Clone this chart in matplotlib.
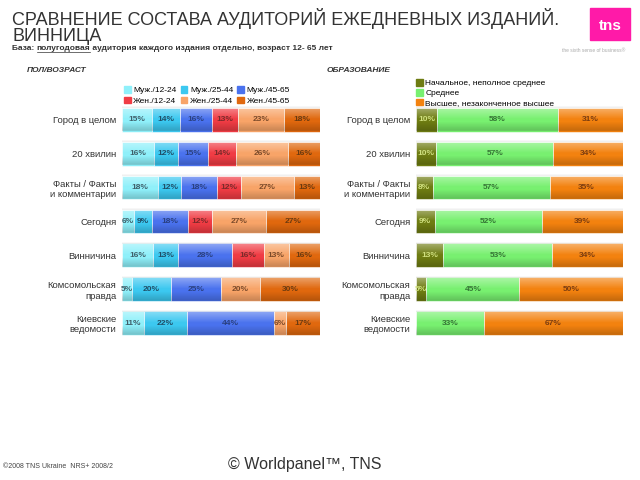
import numpy as np
import matplotlib
matplotlib.use('Agg')
from matplotlib import pyplot as plt
from matplotlib.patches import Rectangle

plt.rcParams['font.family'] = ['Liberation Sans', 'DejaVu Sans']

cats = ['Город в целом', '20 хвилин', 'Факты / Факты\nи комментарии', 'Сегодня',
        'Винничина', 'Комсомольская\nправда', 'Киевские\nведомости']

age_labels = ['Муж./12-24', 'Муж./25-44', 'Муж./45-65', 'Жен./12-24', 'Жен./25-44', 'Жен./45-65']
age_vals = [
    [15, 14, 16, 13, 23, 18],
    [16, 12, 15, 14, 26, 16],
    [18, 12, 18, 12, 27, 13],
    [6, 9, 18, 12, 27, 27],
    [16, 13, 28, 16, 13, 16],
    [5, 20, 25, 0, 20, 30],
    [11, 22, 44, 0, 6, 17],
]
age_colors = ['#8ff0fa', '#3cc8f0', '#4a72ee', '#f03c44', '#f8a468', '#e0680e']

edu_labels = ['Начальное, неполное среднее', 'Среднее', 'Высшее, незаконченное высшее']
edu_vals = [
    [10, 58, 31],
    [10, 57, 34],
    [8, 57, 35],
    [9, 52, 39],
    [13, 53, 34],
    [5, 45, 50],
    [0, 33, 67],
]
edu_colors = ['#6e7c12', '#78f070', '#f3820f']

fig = plt.figure(figsize=(6.4, 4.8), dpi=100)


def stacked(ax, vals, colors, txtcols):
    vals = np.array(vals, dtype=float)
    n = len(vals)
    y = np.arange(n)
    for i, row in enumerate(vals):
        row = row / row.sum() * 100
        left = 0
        for j, v in enumerate(row):
            if v > 0:
                ax.barh(y[i], v, left=left, height=0.7, color=colors[j],
                        edgecolor='white', linewidth=0.4, zorder=2)
                ax.text(left + v / 2, y[i], '%d%%' % vals[i][j], ha='center', va='center',
                        fontsize=6, fontweight='bold', color=txtcols[j], zorder=4)
            left += v
    # shading to fake the glossy gradient of the bars
    ys = np.linspace(-0.5, n - 0.5, 700)
    rgba = np.zeros((len(ys), 2, 4))
    frac = (ys - np.round(ys) + 0.35) / 0.7
    inside = (frac >= 0) & (frac <= 1)
    white = np.clip(0.4 - frac * 0.8, 0, None) * inside
    dark = np.clip((frac - 0.6) * 0.5, 0, None) * inside
    rgba[:, :, :3] = np.where(white[:, None, None] > 0, 1.0, 0.0)
    rgba[:, :, 3] = (white + dark)[:, None]
    ax.imshow(rgba, extent=[0, 100, n - 0.5, -0.5], aspect='auto', zorder=3,
              interpolation='bilinear')
    ax.set_xlim(0, 100)
    ax.set_ylim(n - 0.5, -0.5)
    ax.set_yticks(y)
    ax.set_yticklabels(cats, fontsize=6.8, color='#333333')
    ax.tick_params(axis='y', length=0, pad=4)
    ax.set_xticks([])
    for s in ax.spines.values():
        s.set_visible(False)


ax1 = fig.add_axes([0.1906, 0.2917, 0.309, 0.494])
stacked(ax1, age_vals, age_colors, ['#40606a', '#204e66', '#2a4080', '#7a2a2a', '#7a4a2a', '#6a3a10'])
ax2 = fig.add_axes([0.65, 0.2917, 0.323, 0.494])
stacked(ax2, edu_vals, edu_colors, ['#d0e080', '#357535', '#7a3c10'])

# legends (column-major order so rows read Муж / Жен)
order = [0, 3, 1, 4, 2, 5]
h1 = [Rectangle((0, 0), 1, 1, color=age_colors[k]) for k in order]
ax1.legend(h1, [age_labels[k] for k in order], ncol=3, loc='lower left',
           bbox_to_anchor=(-0.01, 0.975), fontsize=6, frameon=False, handlelength=0.8,
           handleheight=0.8, handletextpad=0.3, columnspacing=0.5, borderaxespad=0.1,
           labelspacing=0.25)
h2 = [Rectangle((0, 0), 1, 1, color=c) for c in edu_colors]
ax2.legend(h2, edu_labels, ncol=1, loc='lower left', bbox_to_anchor=(-0.02, 0.965),
           fontsize=6, frameon=False, handlelength=0.8, handleheight=0.8,
           handletextpad=0.3, borderaxespad=0.1, labelspacing=0.2)

# titles
fig.text(12 / 640, 1 - 25 / 480, 'СРАВНЕНИЕ СОСТАВА АУДИТОРИЙ ЕЖЕДНЕВНЫХ ИЗДАНИЙ.',
         fontsize=13, va='baseline', color='#333333')
fig.text(12 / 640, 1 - 41 / 480, 'ВИННИЦА', fontsize=13, va='baseline', color='#333333')

r = fig.canvas.get_renderer()
t1 = fig.text(12 / 640, 1 - 49 / 480, 'База: ', fontsize=6, fontweight='bold',
              va='center', color='#333333')
bb = t1.get_window_extent(r)
t2 = fig.text(bb.x1 / 640, 1 - 49 / 480, 'полугодовая', fontsize=6, fontweight='bold',
              va='center', color='#333333')
bb2 = t2.get_window_extent(r)
fig.add_artist(plt.Line2D([bb2.x0 / 640, bb2.x1 / 640], [bb2.y0 / 480 + 0.001] * 2,
                          color='#333333', lw=0.5))
fig.text(bb2.x1 / 640, 1 - 49 / 480, ' аудитория каждого издания отдельно, возраст 12- 65 лет',
         fontsize=6, fontweight='bold', va='center', color='#333333')

fig.text(27 / 640, 1 - 70 / 480, 'ПОЛ/ВОЗРАСТ', fontsize=6, fontweight='bold',
         style='italic', va='center', color='#333333')
fig.text(327 / 640, 1 - 70 / 480, 'ОБРАЗОВАНИЕ', fontsize=6, fontweight='bold',
         style='italic', va='center', color='#333333')

# logo
fig.add_artist(Rectangle((590 / 640, 1 - 40 / 480), 40 / 640, 32 / 480, color='#ff1aa8',
                         transform=fig.transFigure))
fig.text(610 / 640, 1 - 26 / 480, 'tns', fontsize=11, fontweight='bold', color='white',
         ha='center', va='center')
fig.text(625 / 640, 1 - 50 / 480, 'the sixth sense of business\u00ae', fontsize=3.5,
         color='#aaaaaa', ha='right', va='center')

# footer
fig.text(3 / 640, 1 - 466 / 480, '©2008 TNS Ukraine  NRS+ 2008/2', fontsize=5,
         color='#444444', va='center')
fig.text(228 / 640, 1 - 465 / 480, '© Worldpanel™, TNS', fontsize=11.5,
         color='#333333', va='center')

fig.savefig('out.png', dpi=100)
